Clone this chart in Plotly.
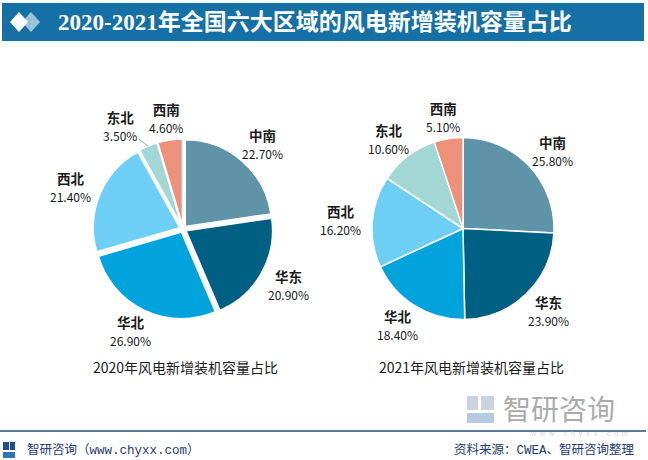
import math
import plotly.graph_objects as go

regions = ["中南", "华东", "华北", "西北", "东北", "西南"]
share_2020 = [22.7, 20.9, 26.9, 21.4, 3.5, 4.6]
share_2021 = [25.8, 23.9, 18.4, 16.2, 10.6, 5.1]
colors = ["#5E93A8", "#006084", "#00A3DC", "#6DCFF6", "#A3D7D5", "#EE917A"]

title_text = "2020-2021年全国六大区域的风电新增装机容量占比"
sub_2020 = "2020年风电新增装机容量占比"
sub_2021 = "2021年风电新增装机容量占比"
footer_left = "智研咨询（www.chyxx.com）"
footer_right = "资料来源：CWEA、智研咨询整理"

W, H = 648, 460
def px(x):
    return x / W
def py(y):
    return 1 - y / H

# pie geometry (pixels)
PIE1 = dict(cx=183, cy=229, r=90)
PIE2 = dict(cx=463, cy=228.5, r=91)
PULL1 = 0.04

fig = go.Figure()
for vals, g, pull in [(share_2020, PIE1, PULL1), (share_2021, PIE2, 0.0)]:
    fig.add_trace(go.Pie(
        labels=regions, values=vals, sort=False, direction="clockwise", rotation=0,
        marker=dict(colors=colors, line=dict(color="white", width=1.5)),
        pull=[pull] * len(vals), textinfo="none", showlegend=False,
        hoverinfo="label+percent",
        domain=dict(x=[px(g["cx"] - g["r"]), px(g["cx"] + g["r"])],
                    y=[py(g["cy"] + g["r"]), py(g["cy"] - g["r"])]),
    ))

def label_annots(vals, g, nudges, leaders):
    out = []
    total = sum(vals)
    cum = 0.0
    for name, v in zip(regions, vals):
        th = math.radians((cum + v / 2) / total * 360)
        cum += v
        lx = g["cx"] + 1.35 * g["r"] * math.sin(th) + nudges.get(name, 0)
        ly = g["cy"] - 1.25 * g["r"] * math.cos(th)
        txt = (f"<b><span style='font-size:13.5px'>{name}</span></b><br>"
               f"<span style='font-size:12px'>{v:.2f}%</span>")
        font = dict(family="Noto Sans CJK SC", size=13.5, color="#1A1A1A")
        if name in leaders:
            ex = g["cx"] + g["r"] * math.sin(th)
            ey = g["cy"] - g["r"] * math.cos(th)
            out.append(dict(text=txt, x=px(ex), y=py(ey), xref="paper", yref="paper",
                            showarrow=True, arrowhead=0, arrowwidth=1, arrowcolor="#A6A6A6",
                            ax=lx - ex, ay=ly - ey, standoff=0, font=font))
        else:
            out.append(dict(text=txt, x=px(lx), y=py(ly), xref="paper", yref="paper",
                            xanchor="center", yanchor="middle", showarrow=False, font=font))
    return out

shapes = [
    dict(type="rect", xref="paper", yref="paper", x0=px(2), x1=px(644), y0=py(41), y1=py(3),
         fillcolor="#1570A6", line=dict(width=0), layer="below"),
    dict(type="path", xref="paper", yref="paper",
         path=f"M {px(31)} {py(12)} L {px(40)} {py(22)} L {px(31)} {py(32)} L {px(22)} {py(22)} Z",
         fillcolor="#9CC3DA", line=dict(width=0)),
    dict(type="path", xref="paper", yref="paper",
         path=f"M {px(19)} {py(12)} L {px(28)} {py(22)} L {px(19)} {py(32)} L {px(10)} {py(22)} Z",
         fillcolor="white", line=dict(width=0)),
    dict(type="line", xref="paper", yref="paper", x0=0, x1=px(646), y0=py(431), y1=py(431),
         line=dict(color="#1F4E79", width=1.5)),
    # footer logo
    dict(type="rect", xref="paper", yref="paper", x0=px(3), x1=px(9), y0=py(450), y1=py(442),
         fillcolor="#1F4E8C", line=dict(width=0)),
    dict(type="rect", xref="paper", yref="paper", x0=px(10), x1=px(15), y0=py(450), y1=py(442),
         fillcolor="#1F4E8C", line=dict(width=0)),
    dict(type="rect", xref="paper", yref="paper", x0=px(3), x1=px(15), y0=py(458), y1=py(452),
         fillcolor="#2E75B6", line=dict(width=0)),
    # watermark logo
    dict(type="rect", xref="paper", yref="paper", x0=px(467), x1=px(478), y0=py(410), y1=py(396),
         fillcolor="#C9D3E0", line=dict(width=0)),
    dict(type="rect", xref="paper", yref="paper", x0=px(481), x1=px(494), y0=py(410), y1=py(396),
         fillcolor="#C9D3E0", line=dict(width=0)),
    dict(type="rect", xref="paper", yref="paper", x0=px(467), x1=px(494), y0=py(423), y1=py(413),
         fillcolor="#B5C9E0", line=dict(width=0)),
]

annotations = [
    dict(text="<b>" + title_text + "</b>", x=px(56), y=py(22), xref="paper", yref="paper",
         xanchor="left", yanchor="middle", showarrow=False,
         font=dict(family="Liberation Serif, Noto Sans CJK SC", size=23, color="white")),
    dict(text=sub_2020, x=px(185), y=py(367), xref="paper", yref="paper", xanchor="center", yanchor="middle",
         showarrow=False, font=dict(family="Noto Sans CJK SC", size=14, color="#1A1A1A")),
    dict(text=sub_2021, x=px(471), y=py(367), xref="paper", yref="paper", xanchor="center", yanchor="middle",
         showarrow=False, font=dict(family="Noto Sans CJK SC", size=14, color="#1A1A1A")),
    dict(text=footer_left, x=px(25), y=py(450), xref="paper", yref="paper", xanchor="left", yanchor="middle",
         showarrow=False, font=dict(family="Liberation Mono, Noto Sans CJK SC", size=12.5, color="#1F3B73")),
    dict(text=footer_right, x=px(637), y=py(450), xref="paper", yref="paper", xanchor="right", yanchor="middle",
         showarrow=False, font=dict(family="Liberation Mono, Noto Sans CJK SC", size=12.5, color="#1F3B73")),
    dict(text="智研咨询", x=px(501), y=py(408), xref="paper", yref="paper", xanchor="left", yanchor="middle",
         showarrow=False, font=dict(family="Noto Sans CJK SC", size=28, color="#ABABAB")),
    dict(text="w  w  w  .  c  h  y  x  x  .  c  o  m", x=px(630), y=py(434), xref="paper", yref="paper",
         xanchor="right", yanchor="middle", showarrow=False,
         font=dict(family="Liberation Sans", size=7, color="#D5D5D5")),
]
annotations += label_annots(share_2020, PIE1, {"东北": -16}, {"东北"})
annotations += label_annots(share_2021, PIE2, {}, set())

fig.update_layout(
    width=W, height=H, margin=dict(l=0, r=0, t=0, b=0),
    paper_bgcolor="white", plot_bgcolor="white",
    shapes=shapes, annotations=annotations,
)
fig.write_html("out.html", config={"displayModeBar": False},
               post_script="document.body.style.margin='0';")
